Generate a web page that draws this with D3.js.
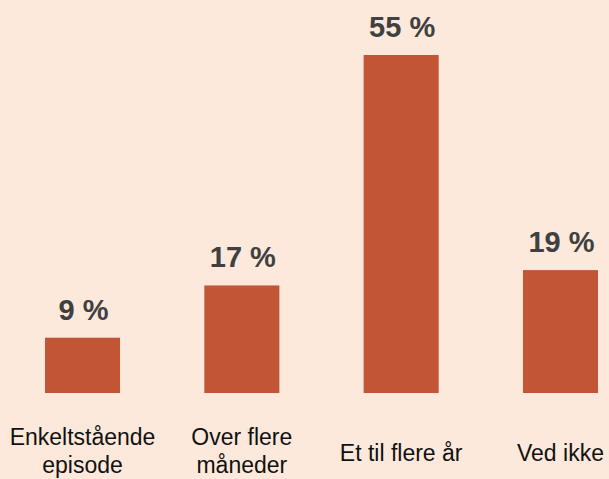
<!DOCTYPE html>
<html><head><meta charset="utf-8">
<script src="https://cdn.jsdelivr.net/npm/d3@7"></script>
<style>html,body{margin:0;padding:0;background:#fce9db;overflow:hidden}</style>
</head><body>
<svg id="c" width="609" height="479"></svg>
<script>
const categories = ["Enkeltstående\nepisode", "Over flere\nmåneder", "Et til flere år", "Ved ikke"];
const values = [9, 17.5, 55, 20];
const valueLabels = ["9 %", "17 %", "55 %", "19 %"];

const svg = d3.select("#c");
svg.append("rect").attr("width", 609).attr("height", 479).attr("fill", "#fce9db");

const x = d3.scaleBand().domain(categories).range([45, 598]).paddingInner(0.529).paddingOuter(0);
const y = d3.scaleLinear().domain([0, 55]).range([393, 55]);

svg.selectAll("rect.bar").data(values).join("rect").attr("class", "bar")
  .attr("x", (d, i) => x(categories[i]))
  .attr("width", x.bandwidth())
  .attr("y", d => y(d))
  .attr("height", d => y(0) - y(d))
  .attr("fill", "#c15536");

svg.selectAll("text.val").data(values).join("text").attr("class", "val")
  .attr("x", (d, i) => x(categories[i]) + x.bandwidth() / 2 + 1)
  .attr("y", d => y(d) - 18)
  .attr("text-anchor", "middle")
  .attr("font-family", "'Liberation Sans', Arial, sans-serif")
  .attr("font-weight", "700")
  .attr("font-size", 29)
  .attr("fill", "#404040")
  .text((d, i) => valueLabels[i]);

const lab = svg.selectAll("text.cat").data(categories).join("text").attr("class", "cat")
  .attr("text-anchor", "middle")
  .attr("font-family", "'Liberation Sans', Arial, sans-serif")
  .attr("font-size", 23)
  .attr("fill", "#111111");
lab.each(function(d) {
  const lines = d.split("\n");
  const t = d3.select(this);
  const cx = x(d) + x.bandwidth() / 2;
  const y0 = 461 - (lines.length - 1) * 16;
  lines.forEach((ln, k) => {
    t.append("tspan").attr("x", cx).attr("y", y0 + k * 28).text(ln);
  });
});
</script>
</body></html>
